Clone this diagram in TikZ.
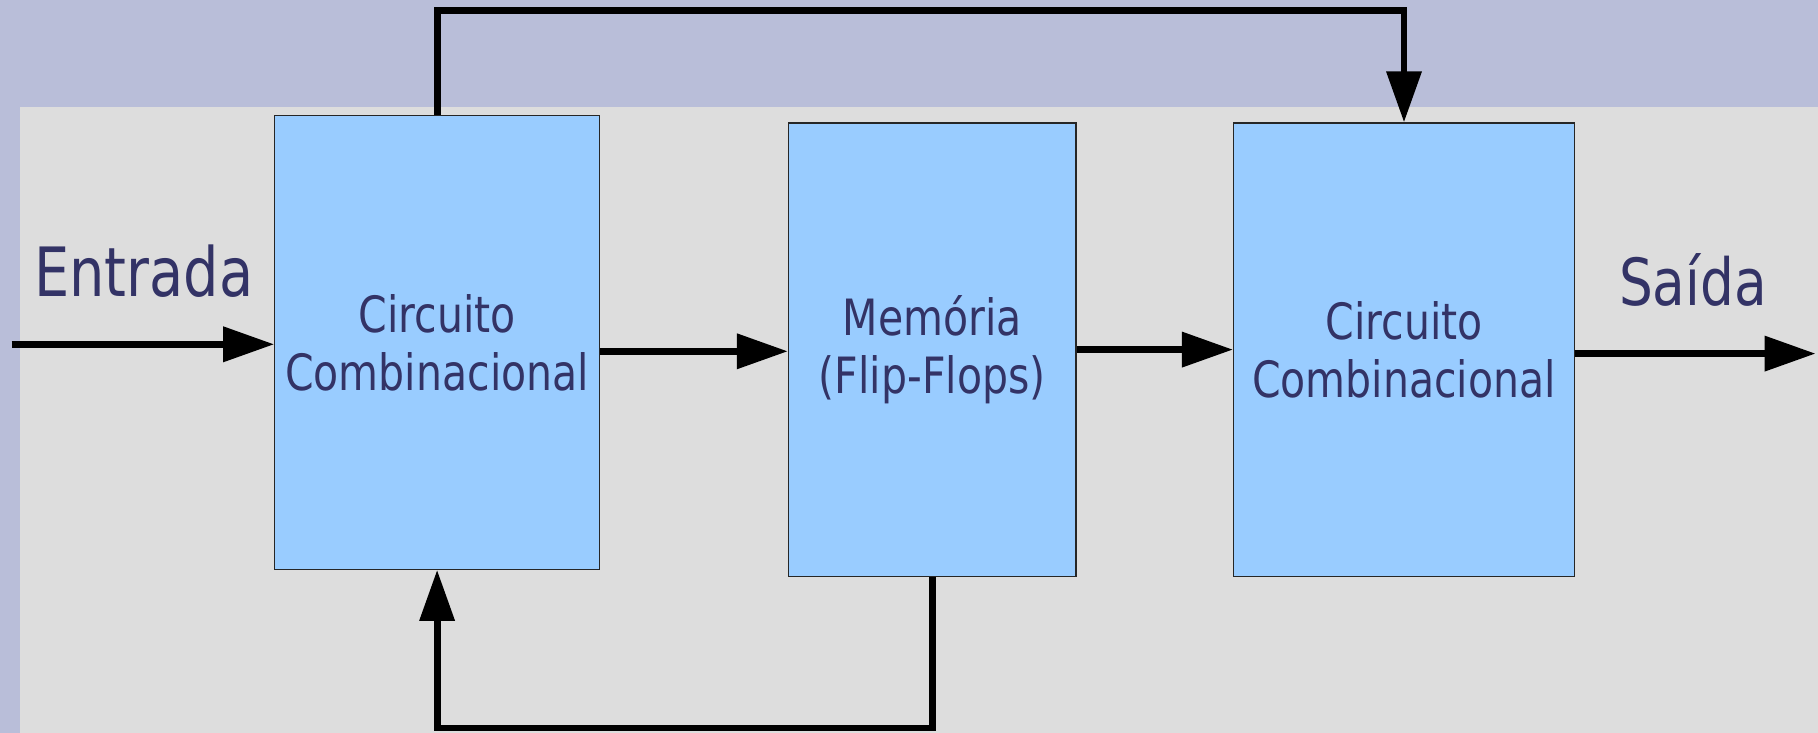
\documentclass[tikz,border=0pt]{standalone}
\usepackage{fontspec}
\setmainfont[FakeStretch=0.82]{DejaVu Sans}
\usetikzlibrary{arrows.meta}
\definecolor{lav}{HTML}{B9BED9}
\definecolor{panel}{HTML}{DDDDDD}
\definecolor{boxblue}{HTML}{99CCFF}
\definecolor{navy}{HTML}{333366}
\tikzset{
  block/.style={draw=black!85, line width=1.2pt, fill=boxblue, inner sep=0pt,
    text=navy, align=center, font=\fontsize{50}{58}\selectfont},
  arr/.style={line width=6.8pt, line join=miter, -{Triangle[length=51pt,width=34pt]}},
  lbl/.style={text=navy, inner sep=0pt, anchor=base, font=\fontsize{68}{72}\selectfont}
}
\begin{document}
\begin{tikzpicture}[x=1pt,y=-1pt]
\useasboundingbox (0,0) rectangle (1818,733);
\fill[lav] (0,0) rectangle (1818,733);
\fill[panel] (19.7,106.7) rectangle (1818,733);

\node[block, minimum width=324.6pt, minimum height=453.4pt] (b1) at (437.1,342.6) {Circuito\\Combinacional};
\node[block, minimum width=287.5pt, minimum height=453.3pt] (b2) at (932.2,349.6) {Memória\\(Flip-Flops)};
\node[block, minimum width=340.9pt, minimum height=453.3pt] (b3) at (1404,349.6) {Circuito\\Combinacional};

\node[lbl] (ent) at (143.8,296.7) {Entrada};
\node[lbl, font=\fontsize{65}{69}\selectfont] (sai) at (1693,305) {Saída};

\coordinate (in) at (11.6,344.3);
\coordinate (out) at (1815.6,353.6);
\coordinate (a12) at (0,351.3);
\coordinate (top) at (900,10.4);
\coordinate (bot) at (700,728);

\draw[arr] (in) -- (in -| b1.west);
\draw[arr] (b1.east |- a12) -- (b2.west |- a12);
\draw[arr] (b2.east) -- (b2.east -| b3.west);
\draw[arr] (b3.east |- out) -- (out);
\draw[arr] (b1.north) |- (top) -| (b3.north);
\draw[arr] (b2.south) |- (bot) -| (b1.south);
\end{tikzpicture}
\end{document}
